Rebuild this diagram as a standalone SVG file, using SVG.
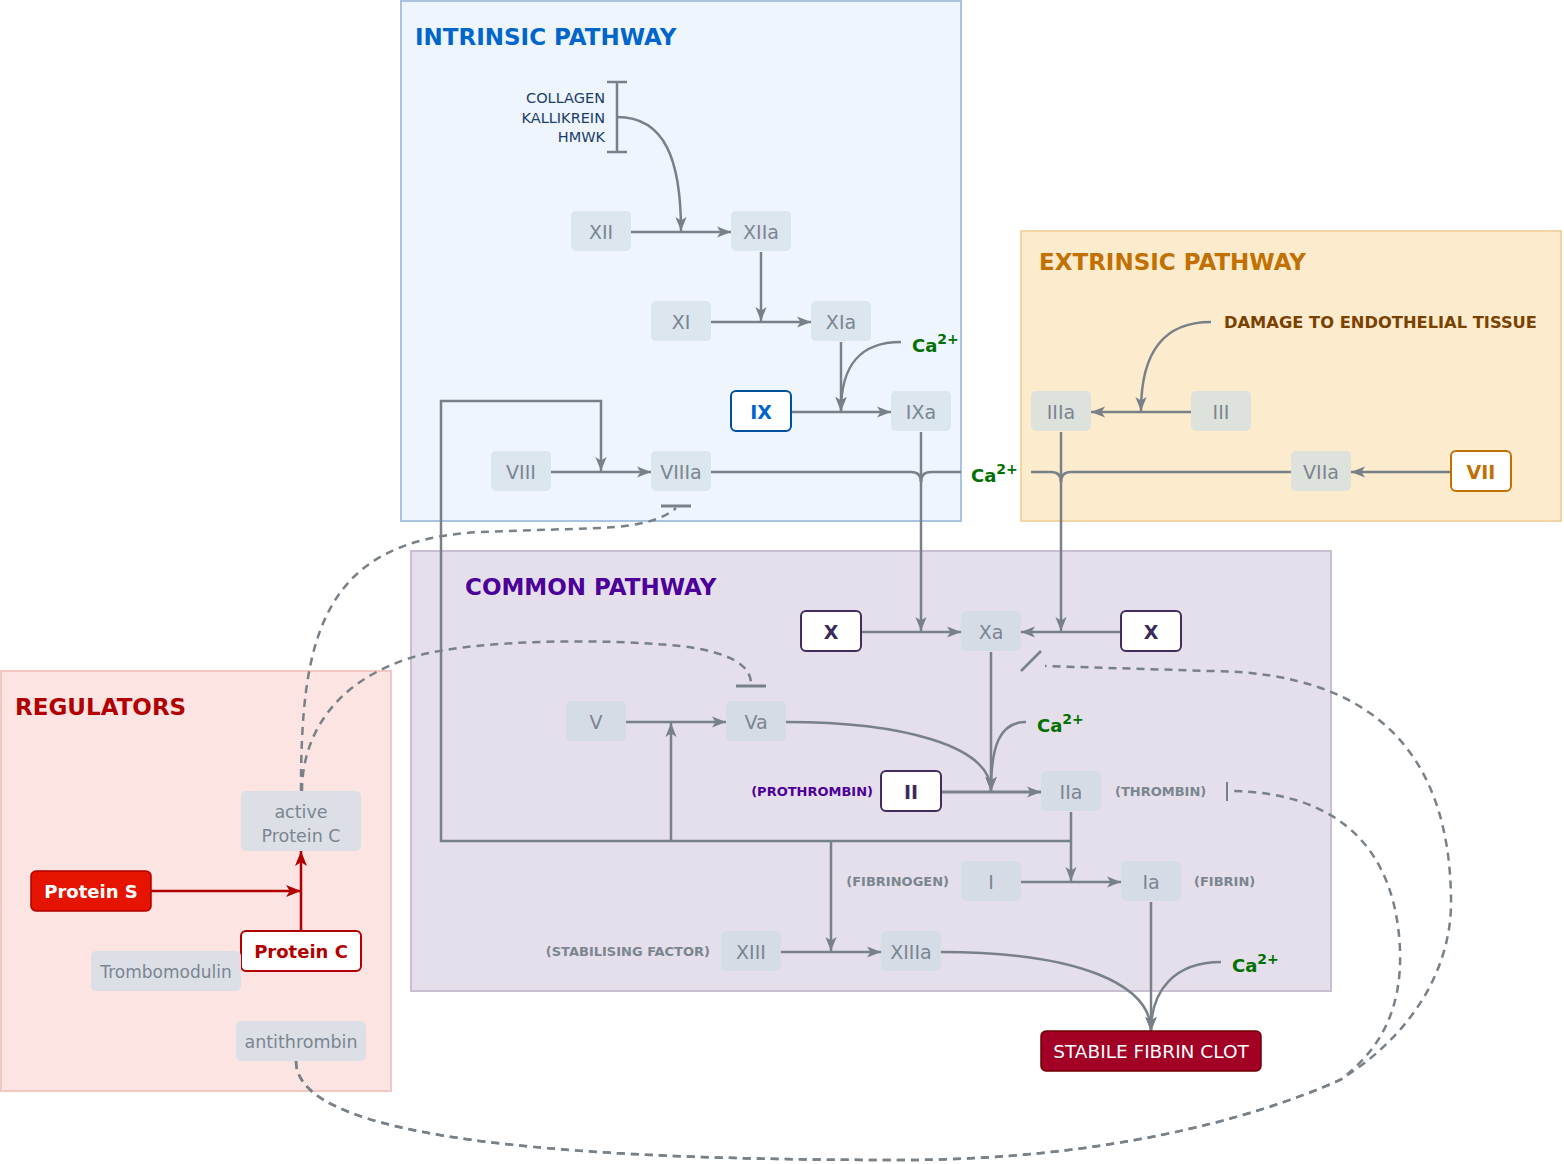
<svg xmlns="http://www.w3.org/2000/svg" width="1564" height="1164" viewBox="0 0 1564 1164">
<defs>
<style>
text{font-family:"DejaVu Sans","Liberation Sans",sans-serif}
.c{fill:none;stroke:#788088;stroke-width:2.5}
.d{fill:none;stroke:#788088;stroke-width:2.5;stroke-dasharray:8 6}
.r{fill:none;stroke:#b20000;stroke-width:2.5}
.title{font-size:23px;font-weight:bold}
.g rect{rx:5;ry:5}
.g text{font-size:19px;fill:#7b8590;text-anchor:middle}
.gi rect{fill:#dce6ef}
.ge rect{fill:#dee2dc}
.gc rect{fill:#d6dce6}
.gr rect{fill:#dcdfe6}
.gr text{font-size:17.5px}
.b rect{fill:#ffffff;stroke-width:2;rx:5;ry:5}
.b text{font-size:19px;font-weight:bold;text-anchor:middle}
.ca{font-size:18px;font-weight:bold;fill:#007000}
.sm{font-size:13px;font-weight:bold;fill:#7b8590}
</style>
<marker id="a" viewBox="0 0 10 10" refX="10" refY="5" markerWidth="14" markerHeight="14" markerUnits="userSpaceOnUse" orient="auto"><path d="M0,1 L10,5 L0,9 L2.5,5z" fill="#788088"/></marker>
<marker id="ar" viewBox="0 0 10 10" refX="10" refY="5" markerWidth="15" markerHeight="15" markerUnits="userSpaceOnUse" orient="auto"><path d="M0,1 L10,5 L0,9 L2.5,5z" fill="#b20000"/></marker>
</defs>
<rect width="1564" height="1164" fill="#ffffff"/>

<g id="intrinsic-pathway">
<rect x="401" y="1" width="560" height="520" fill="#eef5fd" stroke="#a9c4e1" stroke-width="2"/>
<text class="title" x="415" y="45" fill="#0066cc">INTRINSIC PATHWAY</text>
</g>
<g id="extrinsic-pathway">
<rect x="1021" y="231" width="540" height="290" fill="#fcebcd" stroke="#f3d5a3" stroke-width="2"/>
<text class="title" x="1039" y="270" fill="#c27100">EXTRINSIC PATHWAY</text>
</g>
<g id="common-pathway">
<rect x="411" y="551" width="920" height="440" fill="#e4dfea" stroke="#c8c0d2" stroke-width="2"/>
<text class="title" x="465" y="595" fill="#4c0099">COMMON PATHWAY</text>
</g>
<g id="regulators">
<rect x="1" y="671" width="390" height="420" fill="#fbe4e2" stroke="#f5c7c3" stroke-width="2"/>
<text class="title" x="15" y="715" fill="#b20000">REGULATORS</text>
</g>

<g id="labels">
<g font-size="14.5" fill="#1a3d6b" text-anchor="end">
<text x="605" y="103">COLLAGEN</text>
<text x="605" y="123">KALLIKREIN</text>
<text x="605" y="142">HMWK</text>
</g>
<text x="1224" y="328" font-size="16.3" font-weight="bold" fill="#7a4100">DAMAGE TO ENDOTHELIAL TISSUE</text>
<text class="ca" x="912" y="352">Ca<tspan dy="-8" font-size="14">2+</tspan></text>
<text class="ca" x="971" y="482">Ca<tspan dy="-8" font-size="14">2+</tspan></text>
<text class="ca" x="1037" y="732">Ca<tspan dy="-8" font-size="14">2+</tspan></text>
<text class="ca" x="1232" y="972">Ca<tspan dy="-8" font-size="14">2+</tspan></text>
<text class="sm" x="873" y="796" text-anchor="end" style="fill:#4c0099">(PROTHROMBIN)</text>
<text class="sm" x="1115" y="796">(THROMBIN)</text>
<text class="sm" x="949" y="886" text-anchor="end">(FIBRINOGEN)</text>
<text class="sm" x="1194" y="886">(FIBRIN)</text>
<text class="sm" x="710" y="956" text-anchor="end">(STABILISING FACTOR)</text>
</g>

<g id="connectors">
<path class="c" d="M617,82 V152 M607,82 H627 M607,152 H627"/>
<path class="c" d="M617,117 C665,117 681,160 681,231" marker-end="url(#a)"/>
<path class="c" d="M631,232 H731" marker-end="url(#a)"/>
<path class="c" d="M761,252 V321" marker-end="url(#a)"/>
<path class="c" d="M711,322 H811" marker-end="url(#a)"/>
<path class="c" d="M841,342 V411" marker-end="url(#a)"/>
<path class="c" d="M901,342 C860,342 841,365 841,411" marker-end="url(#a)"/>
<path class="c" d="M791,412 H891" marker-end="url(#a)"/>
<path class="c" d="M551,472 H651" marker-end="url(#a)"/>
<path class="c" d="M711,472 H911 Q921,472 921,482"/>
<path class="c" d="M961,472 H931 Q921,472 921,482"/>
<path class="c" d="M921,432 V631" marker-end="url(#a)"/>
<path class="c" d="M1191,412 H1091" marker-end="url(#a)"/>
<path class="c" d="M1211,322 C1165,322 1141,350 1141,411" marker-end="url(#a)"/>
<path class="c" d="M1451,472 H1351" marker-end="url(#a)"/>
<path class="c" d="M1291,472 H1071 Q1061,472 1061,482"/>
<path class="c" d="M1031,472 H1051 Q1061,472 1061,482"/>
<path class="c" d="M1061,432 V631" marker-end="url(#a)"/>
<path class="c" d="M861,632 H961" marker-end="url(#a)"/>
<path class="c" d="M1121,632 H1021" marker-end="url(#a)"/>
<path class="c" d="M991,652 V791" marker-end="url(#a)"/>
<path class="c" d="M626,722 H726" marker-end="url(#a)"/>
<path class="c" d="M786,722 C900,722 991,745 991,791" marker-end="url(#a)"/>
<path class="c" d="M1026,722 C1000,722 991,745 991,791" marker-end="url(#a)"/>
<path class="c" style="stroke-width:3" d="M941,792 H1041" marker-end="url(#a)"/>
<path class="c" d="M1071,812 V881" marker-end="url(#a)"/>
<path class="c" d="M1071,841 H441 V401 H601 V471" marker-end="url(#a)"/>
<path class="c" d="M671,841 V723" marker-end="url(#a)"/>
<path class="c" d="M831,841 V951" marker-end="url(#a)"/>
<path class="c" d="M1021,882 H1121" marker-end="url(#a)"/>
<path class="c" d="M781,952 H881" marker-end="url(#a)"/>
<path class="c" d="M1151,902 V1031" marker-end="url(#a)"/>
<path class="c" d="M941,952 C1080,952 1151,985 1151,1031" marker-end="url(#a)"/>
<path class="c" d="M1221,962 C1175,962 1151,990 1151,1031" marker-end="url(#a)"/>
<path class="r" d="M151,891 H301" marker-end="url(#ar)"/>
<path class="r" d="M301,931 V851" marker-end="url(#ar)"/>
<path class="d" d="M301,791 C301,640 320,540 480,532 L600,528 C640,526 662,520 676,508"/>
<path class="c" style="stroke-width:3" d="M661,506 H691"/>
<path class="d" d="M302,791 C302,740 330,680 420,655 C480,640 600,638 680,646 C730,652 751,665 751,684"/>
<path class="c" style="stroke-width:3" d="M736,686 H766"/>
<path class="d" d="M296,1061 C296,1130 500,1160 900,1160 C1100,1160 1250,1120 1340,1080 C1420,1030 1452,960 1451,900 C1450,760 1380,672 1210,671 L1045,666"/>
<path class="c" d="M1021,671 L1041,651"/>
<path class="d" d="M296,1061 C296,1130 500,1160 900,1160 C1100,1160 1250,1120 1340,1080 C1380,1050 1402,1010 1400,950 C1396,850 1340,792 1230,791"/>
<path class="c" style="stroke-width:2" d="M1227,782 V801"/>
</g>

<g id="n-XII" class="g gi"><rect x="571" y="211" width="60" height="40"/><text x="601" y="239">XII</text></g>
<g id="n-XIIa" class="g gi"><rect x="731" y="211" width="60" height="40"/><text x="761" y="239">XIIa</text></g>
<g id="n-XI" class="g gi"><rect x="651" y="301" width="60" height="40"/><text x="681" y="329">XI</text></g>
<g id="n-XIa" class="g gi"><rect x="811" y="301" width="60" height="40"/><text x="841" y="329">XIa</text></g>
<g id="n-IX" class="b"><rect x="731" y="391" width="60" height="40" stroke="#0050a0"/><text x="761" y="419" fill="#0066cc">IX</text></g>
<g id="n-IXa" class="g gi"><rect x="891" y="391" width="60" height="40"/><text x="921" y="419">IXa</text></g>
<g id="n-VIII" class="g gi"><rect x="491" y="451" width="60" height="40"/><text x="521" y="479">VIII</text></g>
<g id="n-VIIIa" class="g gi"><rect x="651" y="451" width="60" height="40"/><text x="681" y="479">VIIIa</text></g>
<g id="n-IIIa" class="g ge"><rect x="1031" y="391" width="60" height="40"/><text x="1061" y="419">IIIa</text></g>
<g id="n-III" class="g ge"><rect x="1191" y="391" width="60" height="40"/><text x="1221" y="419">III</text></g>
<g id="n-VIIa" class="g ge"><rect x="1291" y="451" width="60" height="40"/><text x="1321" y="479">VIIa</text></g>
<g id="n-VII" class="b"><rect x="1451" y="451" width="60" height="40" stroke="#c27100"/><text x="1481" y="479" fill="#c27100">VII</text></g>
<g id="n-X-left" class="b"><rect x="801" y="611" width="60" height="40" stroke="#432d5e"/><text x="831" y="639" fill="#3c2a5a">X</text></g>
<g id="n-Xa" class="g gc"><rect x="961" y="611" width="60" height="40"/><text x="991" y="639">Xa</text></g>
<g id="n-X-right" class="b"><rect x="1121" y="611" width="60" height="40" stroke="#432d5e"/><text x="1151" y="639" fill="#3c2a5a">X</text></g>
<g id="n-V" class="g gc"><rect x="566" y="701" width="60" height="40"/><text x="596" y="729">V</text></g>
<g id="n-Va" class="g gc"><rect x="726" y="701" width="60" height="40"/><text x="756" y="729">Va</text></g>
<g id="n-II" class="b"><rect x="881" y="771" width="60" height="40" stroke="#432d5e"/><text x="911" y="799" fill="#3c2a5a">II</text></g>
<g id="n-IIa" class="g gc"><rect x="1041" y="771" width="60" height="40"/><text x="1071" y="799">IIa</text></g>
<g id="n-I" class="g gc"><rect x="961" y="861" width="60" height="40"/><text x="991" y="889">I</text></g>
<g id="n-Ia" class="g gc"><rect x="1121" y="861" width="60" height="40"/><text x="1151" y="889">Ia</text></g>
<g id="n-XIII" class="g gc"><rect x="721" y="931" width="60" height="40"/><text x="751" y="959">XIII</text></g>
<g id="n-XIIIa" class="g gc"><rect x="881" y="931" width="60" height="40"/><text x="911" y="959">XIIIa</text></g>
<g id="n-clot"><rect x="1041" y="1031" width="220" height="40" rx="5" fill="#a20025" stroke="#6f0000" stroke-width="1.5"/><text x="1151" y="1058" font-size="18.5" fill="#ffffff" text-anchor="middle">STABILE FIBRIN CLOT</text></g>
<g id="n-active-protein-c" class="g gr"><rect x="241" y="791" width="120" height="60"/><text x="301" y="818">active</text><text x="301" y="842">Protein C</text></g>
<g id="n-protein-s"><rect x="31" y="871" width="120" height="40" rx="5" fill="#e51400" stroke="#b20000" stroke-width="1.5"/><text x="91" y="898" font-size="18" font-weight="bold" fill="#ffffff" text-anchor="middle">Protein S</text></g>
<g id="n-protein-c"><rect x="241" y="931" width="120" height="40" rx="5" fill="#ffffff" stroke="#b20000" stroke-width="2"/><text x="301" y="958" font-size="18" font-weight="bold" fill="#b20000" text-anchor="middle">Protein C</text></g>
<g id="n-trombomodulin" class="g gr"><rect x="91" y="951" width="150" height="40"/><text x="166" y="978" style="font-size:17px">Trombomodulin</text></g>
<g id="n-antithrombin" class="g gr"><rect x="236" y="1021" width="130" height="40"/><text x="301" y="1048">antithrombin</text></g>
</svg>
